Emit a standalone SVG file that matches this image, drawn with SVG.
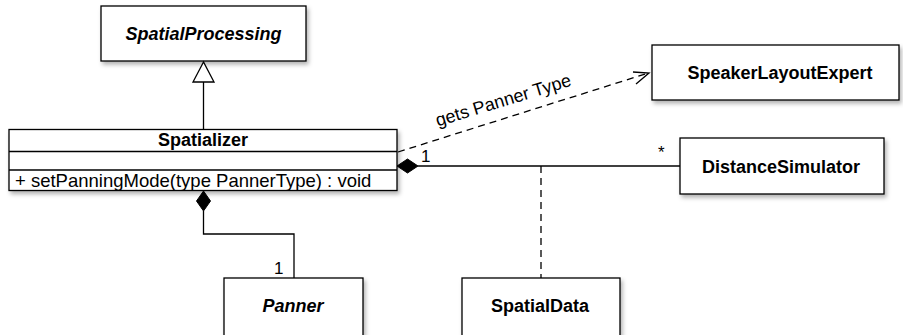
<svg xmlns="http://www.w3.org/2000/svg" width="903" height="335" viewBox="0 0 903 335">
<style>
.box{fill:#fff;stroke:#000;stroke-width:1.3;filter:url(#sh)}
.ln{fill:none;stroke:#000;stroke-width:1.3}
.dash{fill:none;stroke:#000;stroke-width:1.3;stroke-dasharray:7 5}
.t{font-family:"Liberation Sans",Arial,sans-serif;font-size:18px;fill:#000}
.b{font-weight:bold}
.i{font-style:italic}
.m{text-anchor:middle}
.lbl{font-family:"Liberation Sans",Arial,sans-serif;font-size:17px;fill:#000}
</style>
<defs>
<filter id="sh" x="-10%" y="-20%" width="130%" height="160%">
<feDropShadow dx="2" dy="3" stdDeviation="2" flood-color="#000" flood-opacity="0.3"/>
</filter>
</defs>
<rect width="903" height="335" fill="#fff"/>
<g id="SpatialProcessing">
<rect class="box" x="101" y="6" width="205" height="55"/>
<text class="t b i m" x="203.5" y="40">SpatialProcessing</text>
</g>
<g id="Spatializer">
<rect class="box" x="9" y="129.5" width="388" height="61"/>
<line class="ln" x1="9" y1="151.5" x2="397" y2="151.5"/>
<line class="ln" x1="9" y1="170" x2="397" y2="170"/>
<text class="t b m" x="203" y="146">Spatializer</text>
<text class="t" x="15" y="187" style="font-size:18.5px">+ setPanningMode(type PannerType) : void</text>
</g>
<g id="SpeakerLayoutExpert">
<rect class="box" x="652" y="45" width="247" height="55"/>
<text class="t b m" x="780" y="79">SpeakerLayoutExpert</text>
</g>
<g id="DistanceSimulator">
<rect class="box" x="680" y="138" width="204" height="56"/>
<text class="t b m" x="781" y="173">DistanceSimulator</text>
</g>
<g id="Panner">
<rect class="box" x="224" y="278" width="139" height="60"/>
<text class="t b i m" x="293" y="312">Panner</text>
</g>
<g id="SpatialData">
<rect class="box" x="462" y="278" width="158" height="60"/>
<text class="t b m" x="540" y="312">SpatialData</text>
</g>
<g id="connectors">
<line class="ln" x1="203.5" y1="82" x2="203.5" y2="129.5"/>
<polygon points="203.5,62 193,82 214,82" fill="#fff" stroke="#000" stroke-width="1.3"/>
<line class="dash" x1="398" y1="152" x2="647" y2="73.5"/>
<polyline class="ln" points="633,72 649,73 636,84"/>
<text class="t" transform="translate(505,106) rotate(-17)" text-anchor="middle">gets Panner Type</text>
<line class="ln" x1="418" y1="166" x2="680" y2="166"/>
<polygon points="397,166 407.5,159 418,166 407.5,173" fill="#000" stroke="#000" stroke-width="1"/>
<text class="lbl" x="421" y="162">1</text>
<text class="lbl" x="658" y="158">*</text>
<line class="dash" x1="541" y1="166" x2="541" y2="278"/>
<polyline class="ln" points="203.5,211 203.5,234 294,234 294,278"/>
<polygon points="203.5,191 210.5,201 203.5,211 196.5,201" fill="#000" stroke="#000" stroke-width="1"/>
<text class="lbl" x="274" y="274">1</text>
</g>
</svg>
